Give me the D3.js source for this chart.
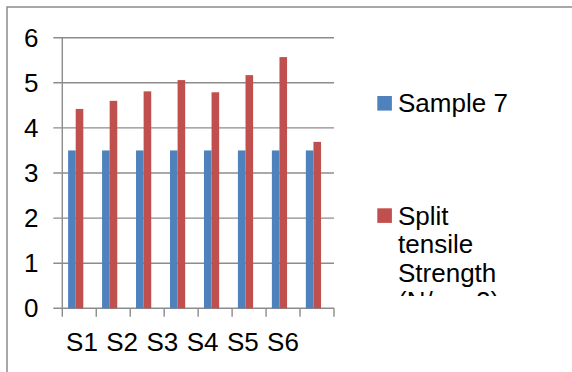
<!DOCTYPE html>
<html>
<head>
<meta charset="utf-8">
<script src="https://cdn.jsdelivr.net/npm/d3@7"></script>
<style>
  body { margin: 0; background: #fff; }
  text { font-family: "Liberation Sans", Arial, sans-serif; fill: #000; }
</style>
</head>
<body>
<div id="chart"></div>
<script>
var categories = [1, 2, 3, 4, 5, 6, 7, 8];
var xLabels = ["S1", "S2", "S3", "S4", "S5", "S6"];
var sample7 = [3.5, 3.5, 3.5, 3.5, 3.5, 3.5, 3.5, 3.5];
var splitTensile = [4.42, 4.60, 4.81, 5.06, 4.79, 5.17, 5.57, 3.69];
var seriesNames = ["Sample 7", "Split tensile Strength (N/mm2)"];
var yTicks = [0, 1, 2, 3, 4, 5, 6];

var width = 572, height = 372;
var plotLeft = 62.3, plotRight = 334, plotTop = 37.7, plotBottom = 308.3;
var fontSize = 26;
var colors = ["#4f81bd", "#c0504d"];
var gridColor = "#8c8c8c";

var svg = d3.select("#chart").append("svg")
    .attr("width", width)
    .attr("height", height);

// outer chart frame (runs off right and bottom)
svg.append("rect")
    .attr("x", 7).attr("y", 7)
    .attr("width", 700).attr("height", 500)
    .attr("fill", "none")
    .attr("stroke", gridColor)
    .attr("stroke-width", 1.5);

var y = d3.scaleLinear().domain([0, 6]).range([plotBottom, plotTop]);
var x0 = d3.scaleBand().domain(categories).range([plotLeft, plotRight]);
var x1 = d3.scaleBand().domain([0, 1]).range([5.8, 21]);
var xl = d3.scalePoint().domain(xLabels).range([82, 283]);

// gridlines
svg.append("g").selectAll("line")
    .data(yTicks)
    .enter().append("line")
    .attr("x1", plotLeft - 9).attr("x2", plotRight)
    .attr("y1", d => y(d)).attr("y2", d => y(d))
    .attr("stroke", gridColor)
    .attr("stroke-width", 1.4);

// y axis line
svg.append("line")
    .attr("x1", plotLeft).attr("x2", plotLeft)
    .attr("y1", plotTop).attr("y2", plotBottom)
    .attr("stroke", gridColor)
    .attr("stroke-width", 1.4);

// x ticks
var tickPos = categories.map(c => x0(c)).concat([plotRight]);
svg.append("g").selectAll("line")
    .data(tickPos)
    .enter().append("line")
    .attr("x1", d => d).attr("x2", d => d)
    .attr("y1", plotBottom).attr("y2", plotBottom + 8.5)
    .attr("stroke", gridColor)
    .attr("stroke-width", 1.4);

// y labels
svg.append("g").selectAll("text")
    .data(yTicks)
    .enter().append("text")
    .attr("x", 38.5)
    .attr("y", d => y(d))
    .attr("dy", "0.35em")
    .attr("text-anchor", "end")
    .attr("font-size", fontSize)
    .text(d => d);

// bars
var series = [sample7, splitTensile];
series.forEach(function(vals, s) {
    svg.append("g").selectAll("rect")
        .data(vals)
        .enter().append("rect")
        .attr("x", (d, i) => x0(categories[i]) + x1(s))
        .attr("width", x1.bandwidth())
        .attr("y", d => y(d))
        .attr("height", d => plotBottom - y(d))
        .attr("fill", colors[s]);
});

// x labels
svg.append("g").selectAll("text")
    .data(xLabels)
    .enter().append("text")
    .attr("x", d => xl(d))
    .attr("y", 350.5)
    .attr("text-anchor", "middle")
    .attr("font-size", fontSize)
    .text(d => d);

// legend
svg.append("defs").append("clipPath").attr("id", "legClip")
    .append("rect").attr("x", 360).attr("y", 60).attr("width", 200).attr("height", 236);

var leg = svg.append("g").attr("clip-path", "url(#legClip)");
var legItems = [
    {name: seriesNames[0], lines: ["Sample 7"], sq: 96, base: 111.7},
    {name: seriesNames[1], lines: ["Split", "tensile", "Strength", "(N/mm2)"], sq: 208.3, base: 225}
];
legItems.forEach(function(it, i) {
    leg.append("rect")
        .attr("x", 377.3).attr("y", it.sq)
        .attr("width", 14.6).attr("height", 14.6)
        .attr("fill", colors[i]);
    leg.append("text")
        .attr("x", 398)
        .attr("y", it.base)
        .attr("font-size", fontSize)
        .selectAll("tspan")
        .data(it.lines)
        .enter().append("tspan")
        .attr("x", 398)
        .attr("dy", (d, j) => j === 0 ? 0 : 28.3)
        .text(d => d);
});
</script>
</body>
</html>
